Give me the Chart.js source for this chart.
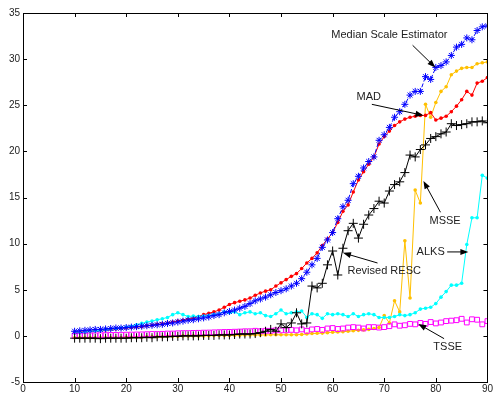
<!DOCTYPE html>
<html>
<head>
<meta charset="utf-8">
<script src="https://cdn.jsdelivr.net/npm/chart.js@4.4.0/dist/chart.umd.min.js"></script>
<style>
  html, body { margin: 0; padding: 0; background: #fff; }
  #wrap { width: 494px; height: 394px; }
</style>
</head>
<body>
<div id="wrap"><canvas id="grafico" width="494" height="394"></canvas></div>
<script>
// eje x (10..90)
const xs = [10,11,12,13,14,15,16,17,18,19,20,21,22,23,24,25,26,27,28,29,30,31,32,33,34,35,36,37,38,39,40,
            41,42,43,44,45,46,47,48,49,50,51,52,53,54,55,56,57,58,59,60,61,62,63,64,65,66,67,68,69,70,
            71,72,73,74,75,76,77,78,79,80,81,82,83,84,85,86,87,88,89,90];

const medianScale = [0.5,0.55,0.6,0.65,0.7,0.7,0.75,0.8,0.85,0.85,0.9,0.95,1.0,1.05,1.1,1.15,1.2,1.25,1.35,1.4,1.5,
                     1.6,1.7,1.75,1.85,1.95,2.05,2.2,2.3,2.5,2.65,2.8,3.0,3.2,3.5,3.8,4.0,4.2,4.45,4.7,4.9,
                     5.1,5.4,5.7,6.2,6.9,7.7,8.4,9.6,10.4,11.2,12.7,14.0,14.7,16.5,17.3,18.2,18.9,19.4,21.2,21.8,
                     22.6,23.7,24.3,25.1,26.1,26.5,26.5,28.1,27.8,29.1,29.3,29.7,30.4,31.3,31.6,32.3,32.1,33.1,33.5,33.6];

const mad = [0.35,0.4,0.45,0.5,0.55,0.6,0.65,0.7,0.75,0.8,0.85,0.9,0.95,1.0,1.1,1.15,1.25,1.3,1.4,1.5,1.6,
             1.7,1.8,1.95,2.1,2.3,2.45,2.6,2.8,3.1,3.4,3.6,3.75,3.9,4.1,4.4,4.65,4.85,5.0,5.4,5.75,
             6.1,6.45,6.75,7.3,7.9,8.4,9.0,9.8,10.5,11.2,12.3,13.5,14.2,15.6,16.9,17.8,18.6,19.4,20.8,21.6,
             22.2,22.8,23.2,23.5,23.7,23.8,23.9,23.9,24.2,23.4,23.6,23.8,24.3,24.9,25.6,26.5,26.1,27.4,27.6,28.0];

const revisedResc = [-0.25,-0.25,-0.25,-0.25,-0.25,-0.3,-0.25,-0.25,-0.25,-0.25,-0.25,-0.2,-0.2,-0.2,-0.15,-0.2,-0.1,-0.1,-0.1,-0.05,-0.05,
                     0.0,0.0,0.0,0.0,0.05,0.05,0.05,0.1,0.1,0.1,0.15,0.2,0.2,0.2,0.25,0.35,0.5,0.7,0.5,1.3,
                     0.9,1.4,2.5,1.3,1.4,5.4,5.2,5.7,7.7,9.2,6.6,9.5,11.4,12.2,10.6,12.1,13.1,13.8,14.6,14.4,
                     15.7,16.4,16.7,17.7,19.6,19.4,20.2,20.7,21.4,21.6,21.9,22.1,23.0,22.8,22.9,23.0,23.2,23.2,23.3,23.1];

const msse = [-0.2,-0.2,-0.2,-0.2,-0.2,-0.2,-0.2,-0.2,-0.2,-0.2,-0.15,-0.15,-0.15,-0.15,-0.1,-0.1,-0.1,-0.1,-0.05,-0.05,-0.05,
              0,0,0,0,0,0.02,0.03,0.05,0.05,0.05,0.07,0.08,0.1,0.1,0.1,0.1,0.1,0.12,0.12,0.12,
              0.12,0.12,0.13,0.15,0.2,0.25,0.28,0.3,0.35,0.4,0.42,0.45,0.5,0.55,0.6,0.65,0.7,0.8,0.9,2.2,
              1.4,3.8,2.6,10.3,4.1,15.8,14.4,25.1,23.7,25.3,26.5,27.0,28.3,28.7,29.0,29.1,29.1,29.5,29.6,29.7];

const alks = [0.3,0.35,0.4,0.5,0.55,0.6,0.7,0.75,0.8,0.85,0.95,1.05,1.2,1.35,1.5,1.6,1.75,1.85,2.0,2.3,2.5,
              2.3,2.1,2.15,2.1,2.15,2.2,2.3,2.4,2.6,2.5,2.6,2.3,2.5,2.6,2.4,2.5,2.2,2.1,2.4,2.8,
              2.4,2.5,2.6,2.7,2.0,2.4,2.3,1.9,2.4,2.3,2.4,2.3,2.1,2.4,2.1,2.3,2.4,2.3,2.0,2.0,
              2.0,2.1,2.3,2.2,2.3,2.5,2.9,3.0,3.1,3.5,4.2,4.8,5.5,5.5,5.7,9.9,12.8,12.8,17.4,17.1];

const tsse = [0.0,0.02,0.03,0.05,0.06,0.07,0.08,0.1,0.1,0.12,0.13,0.14,0.15,0.16,0.18,0.2,0.2,0.22,0.25,0.25,0.28,
              0.3,0.3,0.32,0.33,0.35,0.36,0.38,0.4,0.42,0.43,0.45,0.47,0.5,0.5,0.55,0.5,0.55,0.55,0.6,0.6,
              0.6,0.65,0.6,0.7,0.55,0.7,0.75,0.65,0.8,0.85,0.75,0.8,0.9,0.95,0.9,0.8,0.95,0.95,0.9,0.95,
              1.05,1.25,1.1,1.15,1.3,1.25,1.4,1.3,1.5,1.35,1.45,1.6,1.65,1.7,1.85,1.45,1.8,1.75,1.25,1.6];

const xTicks = [0,10,20,30,40,50,60,70,80,90];
const yTicks = [-5,0,5,10,15,20,25,30,35];

// etiquetas con flecha: texto en (tx,ty), flecha de (ax,ay) a (bx,by), en unidades de datos
const etiquetas = [
    { texto: 'Median Scale Estimator', tx: 71.0, ty: 32.6, ax: 75.5, ay: 31.5, bx: 79.9, by: 29.1 },
    { texto: 'MAD', tx: 67.0, ty: 25.9, ax: 67.6, ay: 25.1, bx: 77.6, by: 23.9 },
    { texto: 'MSSE', tx: 81.8, ty: 12.5, ax: 80.9, ay: 13.4, bx: 77.6, by: 16.8 },
    { texto: 'ALKS', tx: 79.0, ty: 9.1, ax: 82.2, ay: 9.1, bx: 86.3, by: 9.1 },
    { texto: 'Revised RESC', tx: 70.0, ty: 7.0, ax: 68.7, ay: 7.9, bx: 62.0, by: 9.0 },
    { texto: 'TSSE', tx: 82.3, ty: -1.2, ax: 81.6, ay: -0.3, bx: 76.6, by: 1.3 }
];

function puntos(valores) {
    return xs.map((x, i) => ({ x: x, y: valores[i] }));
}

// marco y marcas hacia adentro, estilo MATLAB
const marcoPlugin = {
    id: 'marco',
    afterDatasetsDraw(chart) {
        const { ctx, chartArea: a, scales } = chart;
        ctx.save();
        ctx.strokeStyle = '#000';
        ctx.lineWidth = 1;
        ctx.strokeRect(Math.round(a.left) + 0.5, Math.round(a.top) + 0.5,
                       Math.round(a.right - a.left), Math.round(a.bottom - a.top));
        ctx.beginPath();
        xTicks.forEach(v => {
            const px = Math.round(scales.x.getPixelForValue(v)) + 0.5;
            ctx.moveTo(px, a.bottom); ctx.lineTo(px, a.bottom - 4);
            ctx.moveTo(px, a.top); ctx.lineTo(px, a.top + 4);
        });
        yTicks.forEach(v => {
            const py = Math.round(scales.y.getPixelForValue(v)) + 0.5;
            ctx.moveTo(a.left, py); ctx.lineTo(a.left + 4, py);
            ctx.moveTo(a.right, py); ctx.lineTo(a.right - 4, py);
        });
        ctx.stroke();

        // textos y flechas
        ctx.font = '11px "Liberation Sans", Arial, sans-serif';
        ctx.fillStyle = '#222';
        ctx.strokeStyle = '#000';
        ctx.textAlign = 'center';
        ctx.textBaseline = 'middle';
        etiquetas.forEach(e => {
            const tx = scales.x.getPixelForValue(e.tx);
            const ty = scales.y.getPixelForValue(e.ty);
            ctx.fillText(e.texto, tx, ty);
            const x1 = scales.x.getPixelForValue(e.ax), y1 = scales.y.getPixelForValue(e.ay);
            const x2 = scales.x.getPixelForValue(e.bx), y2 = scales.y.getPixelForValue(e.by);
            const ang = Math.atan2(y2 - y1, x2 - x1);
            ctx.beginPath();
            ctx.moveTo(x1, y1);
            ctx.lineTo(x2 - 6 * Math.cos(ang), y2 - 6 * Math.sin(ang));
            ctx.stroke();
            ctx.beginPath();
            ctx.moveTo(x2, y2);
            ctx.lineTo(x2 - 8 * Math.cos(ang) + 3 * Math.sin(ang), y2 - 8 * Math.sin(ang) - 3 * Math.cos(ang));
            ctx.lineTo(x2 - 8 * Math.cos(ang) - 3 * Math.sin(ang), y2 - 8 * Math.sin(ang) + 3 * Math.cos(ang));
            ctx.closePath();
            ctx.fillStyle = '#000';
            ctx.fill();
            ctx.fillStyle = '#222';
        });
        ctx.restore();
    }
};

function crearGrafico() {
    const ctx = document.getElementById('grafico').getContext('2d');

    new Chart(ctx, {
        type: 'line',
        data: {
            datasets: [
                {
                    label: 'Revised RESC', data: puntos(revisedResc),
                    borderColor: '#000', backgroundColor: '#000', borderWidth: 1,
                    pointStyle: 'cross', pointRadius: 4.5, pointBorderWidth: 1
                },
                {
                    label: 'Median Scale Estimator', data: puntos(medianScale),
                    borderColor: '#0000ff', backgroundColor: '#0000ff', borderWidth: 1, borderDash: [4, 2],
                    pointStyle: 'star', pointRadius: 3.5, pointBorderWidth: 1
                },
                {
                    label: 'TSSE', data: puntos(tsse), showLine: false,
                    borderColor: '#ff00ff', backgroundColor: 'rgba(0,0,0,0)', borderWidth: 1,
                    pointStyle: 'rect', pointRadius: 3.4, pointBorderWidth: 1
                },
                {
                    label: 'ALKS', data: puntos(alks),
                    borderColor: '#00ffff', backgroundColor: '#00ffff', borderWidth: 1,
                    pointStyle: 'circle', pointRadius: 1.8, pointBorderWidth: 0
                },
                {
                    label: 'MAD', data: puntos(mad),
                    borderColor: '#ff0000', backgroundColor: '#ff0000', borderWidth: 1,
                    pointStyle: 'circle', pointRadius: 1.8, pointBorderWidth: 0
                },
                {
                    label: 'MSSE', data: puntos(msse),
                    borderColor: '#ffc000', backgroundColor: '#ffc000', borderWidth: 1,
                    pointStyle: 'circle', pointRadius: 1.8, pointBorderWidth: 0
                }
            ]
        },
        options: {
            responsive: false,
            animation: false,
            layout: { padding: { top: 13, right: 5, left: 0, bottom: 0 } },
            plugins: {
                legend: { display: false },
                tooltip: { enabled: false }
            },
            elements: { line: { tension: 0 } },
            scales: {
                x: {
                    type: 'linear', min: 0, max: 90,
                    afterBuildTicks: s => { s.ticks = xTicks.map(v => ({ value: v })); },
                    afterFit: s => { s.height = 12; },
                    grid: { display: false, drawTicks: false },
                    border: { display: false },
                    ticks: { padding: 1, color: '#222', font: { family: '"Liberation Sans", Arial', size: 10 }, maxRotation: 0 }
                },
                y: {
                    type: 'linear', min: -5, max: 35,
                    afterBuildTicks: s => { s.ticks = yTicks.map(v => ({ value: v })); },
                    afterFit: s => { s.width = 23; },
                    grid: { display: false, drawTicks: false },
                    border: { display: false },
                    ticks: { padding: 3, color: '#222', font: { family: '"Liberation Sans", Arial', size: 10 } }
                }
            }
        },
        plugins: [marcoPlugin]
    });
}

crearGrafico();
</script>
</body>
</html>
